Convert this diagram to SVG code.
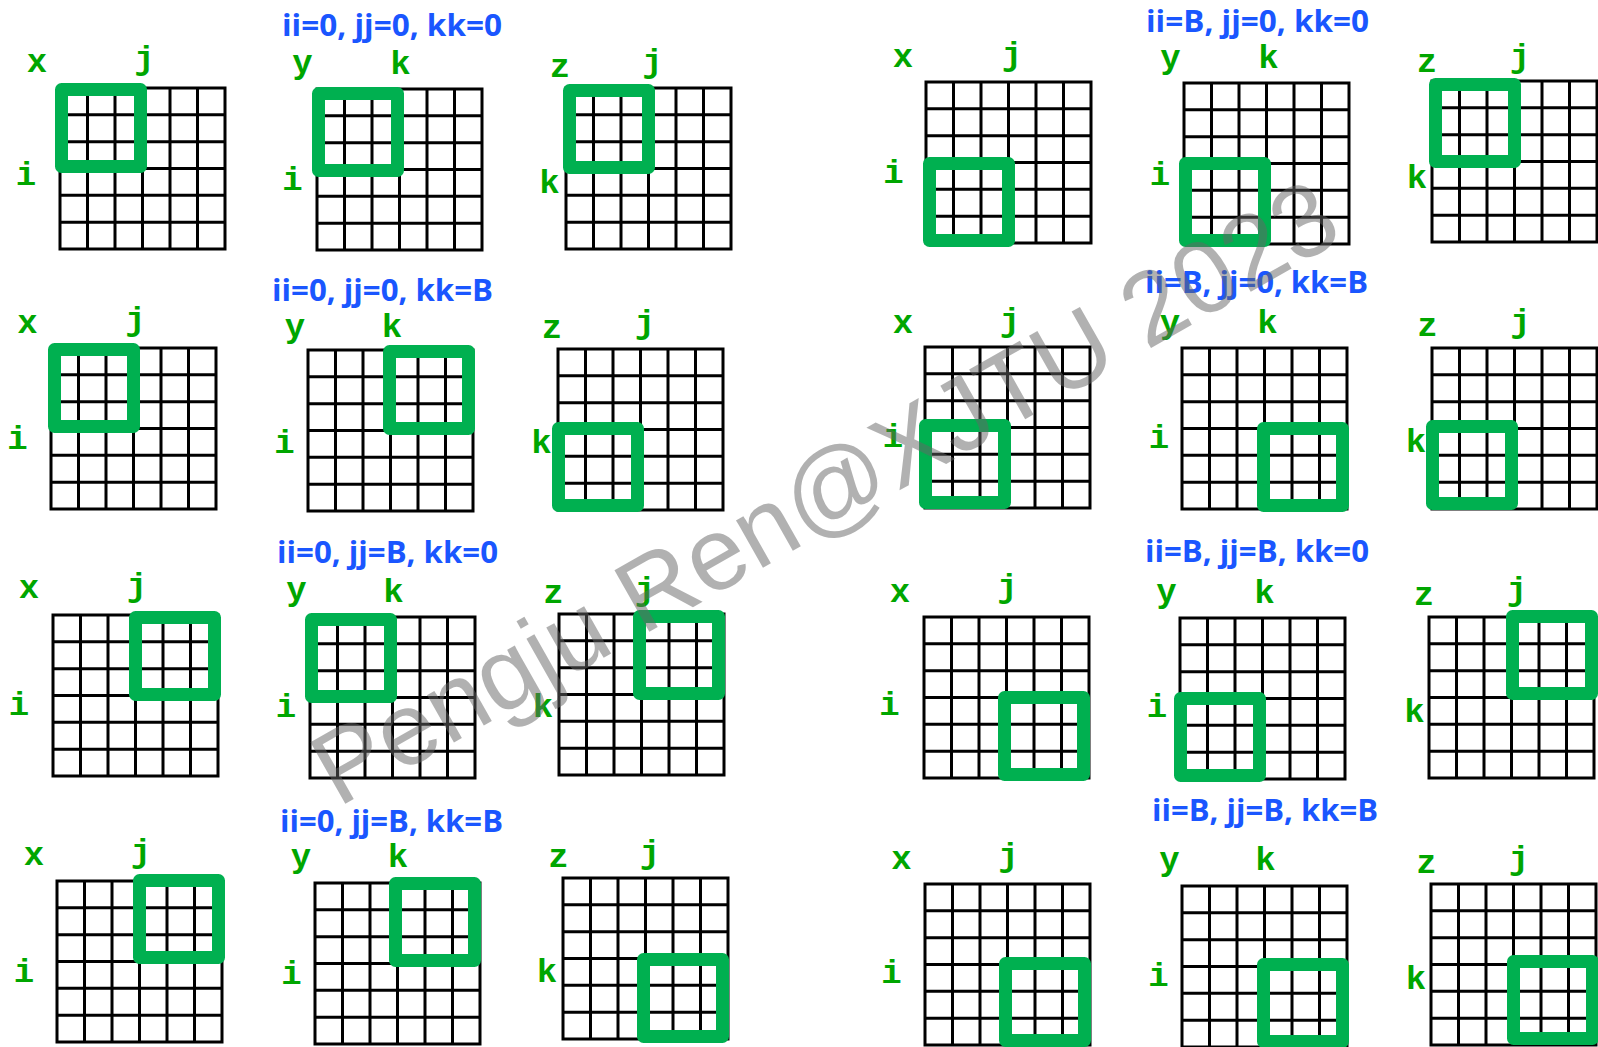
<svg xmlns="http://www.w3.org/2000/svg" xmlns:xlink="http://www.w3.org/1999/xlink" width="1598" height="1047" viewBox="0 0 1598 1047">
<style>
.lbl{font-family:"Liberation Mono","Courier New",monospace;font-weight:bold;font-size:34px;fill:#00A600;text-anchor:middle}
.ttl{font-family:"Open Sans","Noto Sans",sans-serif;font-weight:700;font-size:31px;fill:#1A56FF}
.blk{fill:none;stroke:#00B050;stroke-width:13;stroke-linejoin:round}
.grd{fill:none;stroke:#000;stroke-width:3}
.wm{font-family:"Liberation Sans",Arial,sans-serif;font-size:103px;fill:#666;opacity:0.5}
</style>
<defs>
<path id="grid" class="grd" d="M0,0H165V161H0Z M27.5,0V161 M55,0V161 M82.5,0V161 M110,0V161 M137.5,0V161 M0,26.83H165 M0,53.67H165 M0,80.5H165 M0,107.33H165 M0,134.17H165"/>
</defs>
<rect width="1598" height="1047" fill="#fff"/>

<g id="titles">
<text class="ttl" x="282" y="36" textLength="220" lengthAdjust="spacingAndGlyphs">ii=0, jj=0, kk=0</text>
<text class="ttl" x="272" y="301" textLength="221" lengthAdjust="spacingAndGlyphs">ii=0, jj=0, kk=B</text>
<text class="ttl" x="277" y="563" textLength="221" lengthAdjust="spacingAndGlyphs">ii=0, jj=B, kk=0</text>
<text class="ttl" x="280" y="832" textLength="223" lengthAdjust="spacingAndGlyphs">ii=0, jj=B, kk=B</text>
<text class="ttl" x="1146" y="32" textLength="223" lengthAdjust="spacingAndGlyphs">ii=B, jj=0, kk=0</text>
<text class="ttl" x="1145" y="293" textLength="223" lengthAdjust="spacingAndGlyphs">ii=B, jj=0, kk=B</text>
<text class="ttl" x="1145" y="562" textLength="224" lengthAdjust="spacingAndGlyphs">ii=B, jj=B, kk=0</text>
<text class="ttl" x="1152" y="821" textLength="226" lengthAdjust="spacingAndGlyphs">ii=B, jj=B, kk=B</text>
</g>

<g id="connectors"/>

<!-- Left half -->
<g id="r1-x"><use xlink:href="#grid" href="#grid" x="60" y="88"/><rect class="blk" x="61.5" y="89.5" width="79" height="77"/>
<text class="lbl" x="37" y="72">x</text><text class="lbl" x="144.5" y="69">j</text><text class="lbl" x="26" y="185">i</text></g>
<g id="r1-y"><use xlink:href="#grid" href="#grid" x="317" y="89"/><rect class="blk" x="318.5" y="93.5" width="79" height="77"/>
<text class="lbl" x="302.5" y="73">y</text><text class="lbl" x="400.5" y="74">k</text><text class="lbl" x="292.5" y="190">i</text></g>
<g id="r1-z"><use xlink:href="#grid" href="#grid" x="566" y="88"/><rect class="blk" x="569.5" y="90.5" width="79" height="77"/>
<text class="lbl" x="560" y="77">z</text><text class="lbl" x="652.5" y="72">j</text><text class="lbl" x="549.5" y="193">k</text></g>

<g id="r2-x"><use xlink:href="#grid" href="#grid" x="51" y="348"/><rect class="blk" x="54.5" y="349.5" width="79" height="77"/>
<text class="lbl" x="27.5" y="333">x</text><text class="lbl" x="135.5" y="330">j</text><text class="lbl" x="17.5" y="449">i</text></g>
<g id="r2-y"><use xlink:href="#grid" href="#grid" x="308" y="350"/><rect class="blk" x="389.5" y="351.5" width="79" height="77"/>
<text class="lbl" x="295" y="337">y</text><text class="lbl" x="392" y="337">k</text><text class="lbl" x="284.5" y="453">i</text></g>
<g id="r2-z"><use xlink:href="#grid" href="#grid" x="558" y="349"/><rect class="blk" x="558.5" y="428.5" width="79" height="77"/>
<text class="lbl" x="552" y="338">z</text><text class="lbl" x="645" y="333">j</text><text class="lbl" x="541.5" y="453">k</text></g>

<g id="r3-x"><use xlink:href="#grid" href="#grid" x="53" y="615"/><rect class="blk" x="135.5" y="617.5" width="79" height="77"/>
<text class="lbl" x="29" y="598">x</text><text class="lbl" x="137" y="596">j</text><text class="lbl" x="19" y="715">i</text></g>
<g id="r3-y"><use xlink:href="#grid" href="#grid" x="310" y="617"/><rect class="blk" x="311.5" y="619.5" width="79" height="77"/>
<text class="lbl" x="296.5" y="600">y</text><text class="lbl" x="393.5" y="602">k</text><text class="lbl" x="286" y="717">i</text></g>
<g id="r3-z"><use xlink:href="#grid" href="#grid" x="559" y="614"/><rect class="blk" x="639.5" y="616.5" width="79" height="77"/>
<text class="lbl" x="553.5" y="603">z</text><text class="lbl" x="645" y="600">j</text><text class="lbl" x="543" y="717">k</text></g>

<g id="r4-x"><use xlink:href="#grid" href="#grid" x="57" y="881"/><rect class="blk" x="139.5" y="880.5" width="79" height="77"/>
<text class="lbl" x="34" y="865">x</text><text class="lbl" x="141" y="862">j</text><text class="lbl" x="24" y="982">i</text></g>
<g id="r4-y"><use xlink:href="#grid" href="#grid" x="315" y="883"/><rect class="blk" x="395.5" y="883.5" width="79" height="77"/>
<text class="lbl" x="301" y="867">y</text><text class="lbl" x="398" y="867">k</text><text class="lbl" x="291.5" y="984">i</text></g>
<g id="r4-z"><use xlink:href="#grid" href="#grid" x="563" y="878"/><rect class="blk" x="643.5" y="959.5" width="79" height="77"/>
<text class="lbl" x="558.5" y="867">z</text><text class="lbl" x="650" y="863">j</text><text class="lbl" x="547" y="982">k</text></g>

<!-- Right half -->
<g id="r5-x"><use xlink:href="#grid" href="#grid" x="926" y="82"/><rect class="blk" x="929.5" y="163.5" width="79" height="77"/>
<text class="lbl" x="903" y="67">x</text><text class="lbl" x="1012" y="65">j</text><text class="lbl" x="893.5" y="183">i</text></g>
<g id="r5-y"><use xlink:href="#grid" href="#grid" x="1184" y="83"/><rect class="blk" x="1185.5" y="163.5" width="79" height="77"/>
<text class="lbl" x="1170.5" y="68">y</text><text class="lbl" x="1268.5" y="68">k</text><text class="lbl" x="1160" y="185">i</text></g>
<g id="r5-z"><use xlink:href="#grid" href="#grid" x="1432" y="81"/><rect class="blk" x="1435.5" y="84.5" width="79" height="77"/>
<text class="lbl" x="1427" y="72">z</text><text class="lbl" x="1520" y="67">j</text><text class="lbl" x="1417" y="188">k</text></g>

<g id="r6-x"><use xlink:href="#grid" href="#grid" x="925" y="347"/><rect class="blk" x="925.5" y="425.5" width="79" height="77"/>
<text class="lbl" x="903" y="333">x</text><text class="lbl" x="1010" y="331">j</text><text class="lbl" x="893" y="447">i</text></g>
<g id="r6-y"><use xlink:href="#grid" href="#grid" x="1182" y="348"/><rect class="blk" x="1263.5" y="428.5" width="79" height="77"/>
<text class="lbl" x="1170" y="333">y</text><text class="lbl" x="1267.5" y="333">k</text><text class="lbl" x="1159" y="448">i</text></g>
<g id="r6-z"><use xlink:href="#grid" href="#grid" x="1432" y="348"/><rect class="blk" x="1432.5" y="426.5" width="79" height="77"/>
<text class="lbl" x="1427.5" y="336">z</text><text class="lbl" x="1520.5" y="332">j</text><text class="lbl" x="1416" y="452">k</text></g>

<g id="r7-x"><use xlink:href="#grid" href="#grid" x="924" y="617"/><rect class="blk" x="1004.5" y="697.5" width="79" height="77"/>
<text class="lbl" x="900" y="602">x</text><text class="lbl" x="1007.5" y="597">j</text><text class="lbl" x="889.5" y="715">i</text></g>
<g id="r7-y"><use xlink:href="#grid" href="#grid" x="1180" y="618"/><rect class="blk" x="1180.5" y="698.5" width="79" height="77"/>
<text class="lbl" x="1166.5" y="602">y</text><text class="lbl" x="1264.5" y="603">k</text><text class="lbl" x="1157" y="717">i</text></g>
<g id="r7-z"><use xlink:href="#grid" href="#grid" x="1429" y="617"/><rect class="blk" x="1512.5" y="616.5" width="79" height="77"/>
<text class="lbl" x="1424" y="605">z</text><text class="lbl" x="1517" y="600">j</text><text class="lbl" x="1414.5" y="722">k</text></g>

<g id="r8-x"><use xlink:href="#grid" href="#grid" x="925" y="884"/><rect class="blk" x="1005.5" y="963.5" width="79" height="77"/>
<text class="lbl" x="901.5" y="869">x</text><text class="lbl" x="1008.5" y="866">j</text><text class="lbl" x="891.5" y="983">i</text></g>
<g id="r8-y"><use xlink:href="#grid" href="#grid" x="1182" y="886"/><rect class="blk" x="1263.5" y="964.5" width="79" height="77"/>
<text class="lbl" x="1169.5" y="870">y</text><text class="lbl" x="1265.5" y="870">k</text><text class="lbl" x="1158.5" y="986">i</text></g>
<g id="r8-z"><use xlink:href="#grid" href="#grid" x="1431" y="884"/><rect class="blk" x="1513.5" y="961.5" width="79" height="77"/>
<text class="lbl" x="1426.5" y="873">z</text><text class="lbl" x="1519" y="869">j</text><text class="lbl" x="1416" y="989">k</text></g>

<g id="watermark"><text class="wm" transform="translate(338,808) rotate(-29.5)">Pengju Ren@XJTU 2023</text></g>
</svg>
